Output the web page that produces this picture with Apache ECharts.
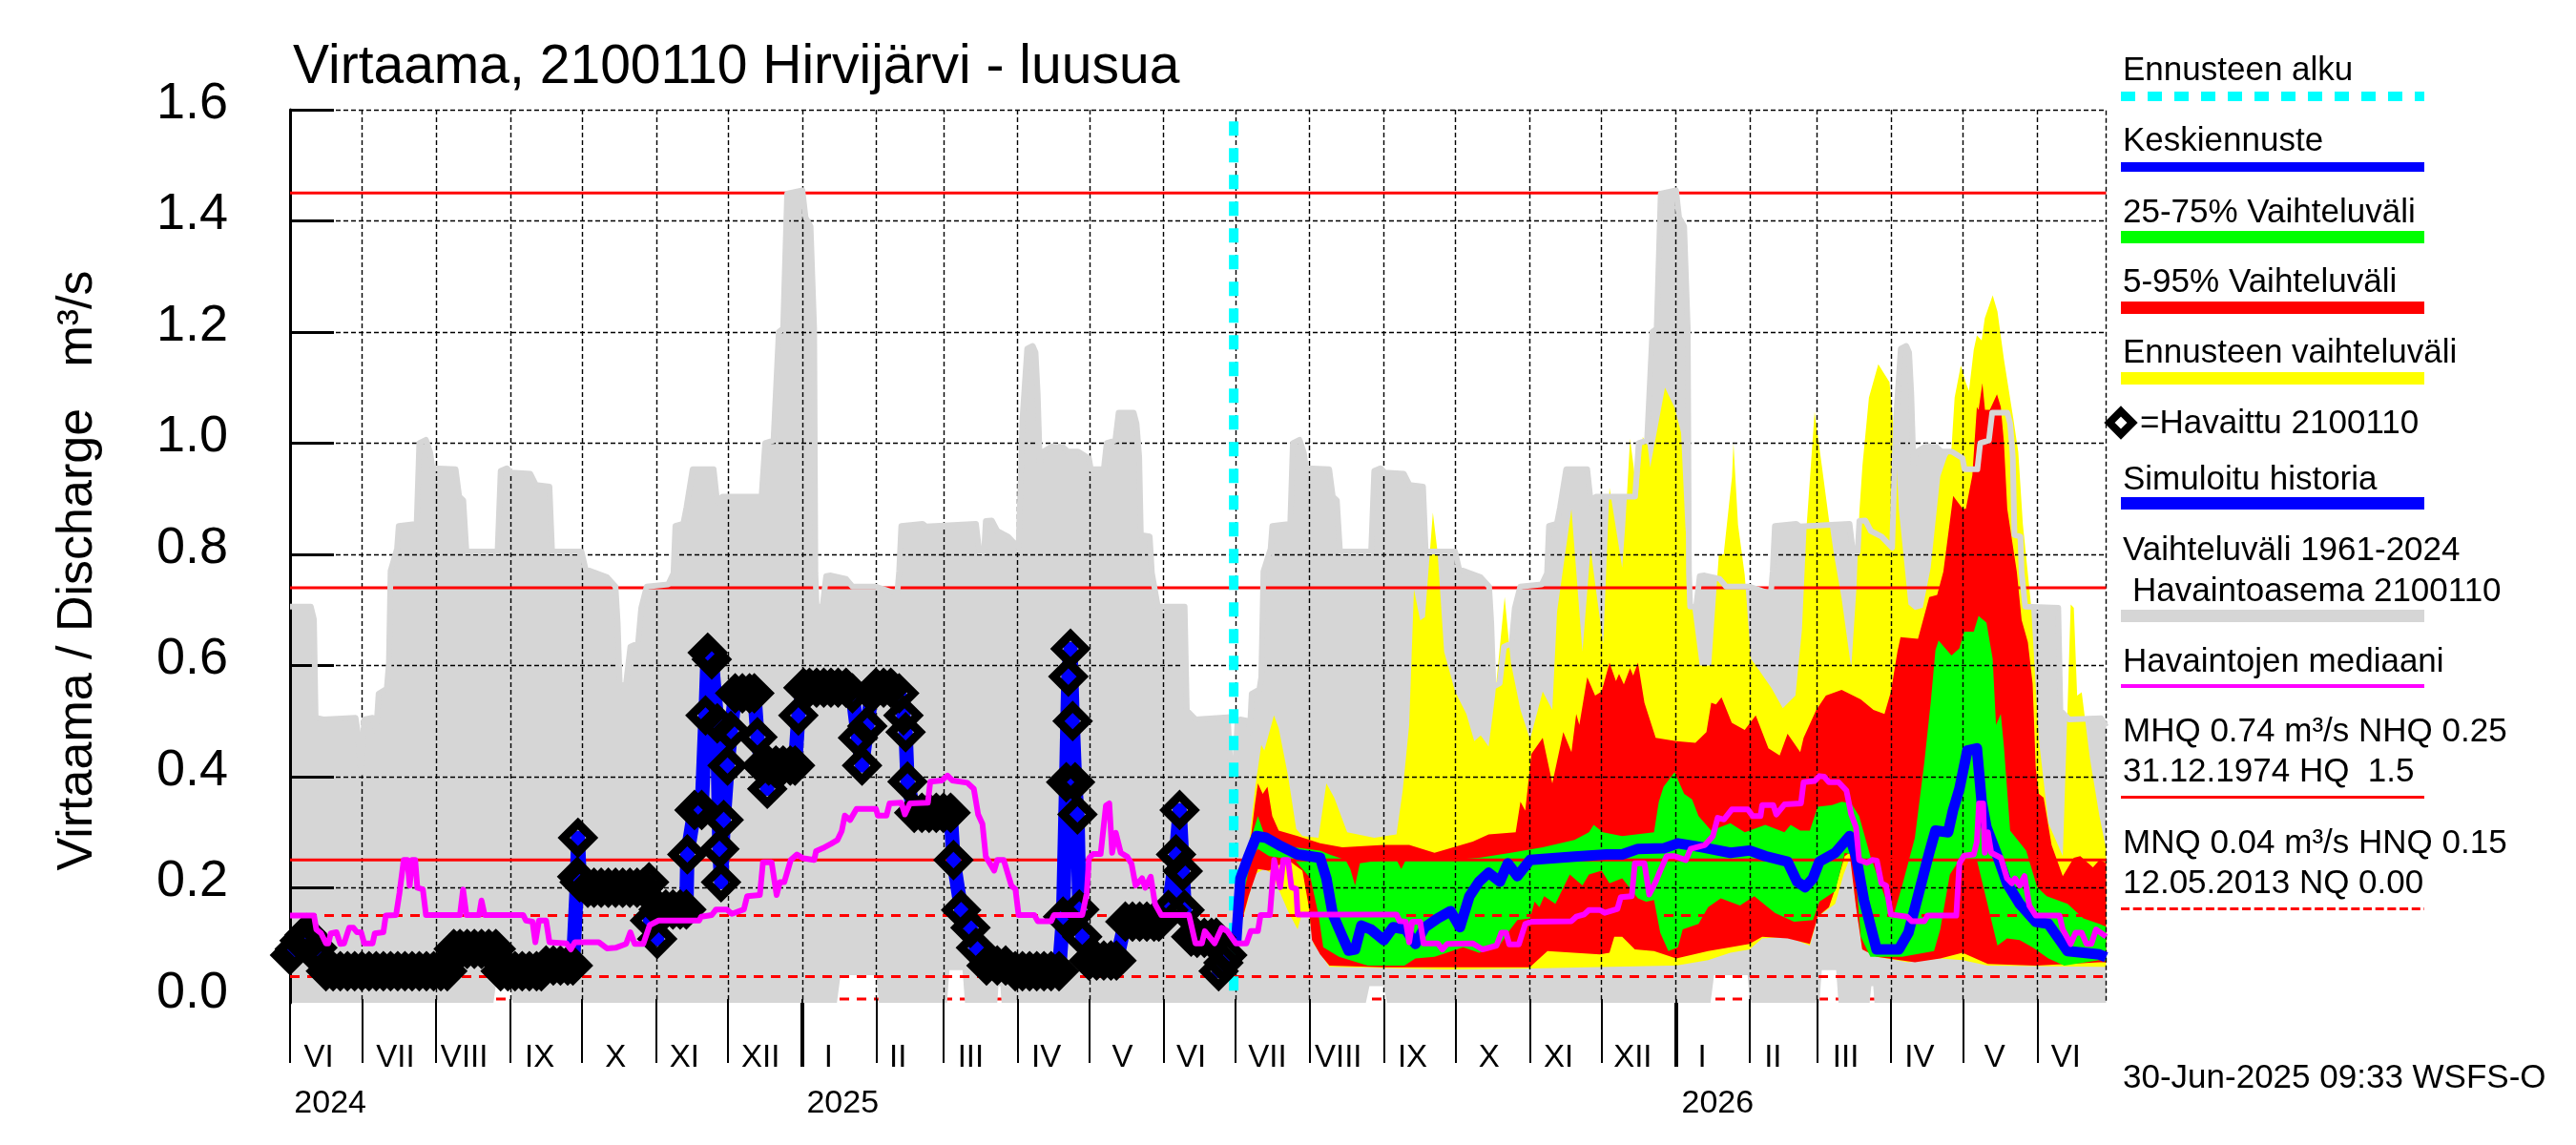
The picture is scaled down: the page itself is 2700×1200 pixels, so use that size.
<!DOCTYPE html>
<html><head><meta charset="utf-8"><style>html,body{margin:0;padding:0;background:#fff}#c{width:2700px;height:1200px}</style>
<script src="https://cdn.jsdelivr.net/npm/echarts@6/dist/echarts.min.js"></script></head><body><div id="c"></div>
<script>
// x values are days since 1 June 2024, y values are m3/s
const monthStarts=[0,30,61,92,122,153,183,214,245,273,304,334,365,395,426,457,487,518,548,579,610,638,669,699,730];
const yearStarts=[214,579];
const monthNames=['VI','VII','VIII','IX','X','XI','XII','I','II','III','IV','V','VI','VII','VIII','IX','X','XI','XII','I','II','III','IV','V','VI'];
const monthLabelDays=[12,44,72.8,104.3,136,164.8,196.6,225,254,284.4,316,347.8,376.5,408.4,438,469,501,530,561,590,619.6,650,680.8,712.3,742];
const yearNames=['2024','2025','2026'];
const yearLabelDays=[16.8,230.9,596.5];
const yTicks=[0.2,0.4,0.6,0.8,1.0,1.2,1.4,1.6];
const yLabels=[0,0.2,0.4,0.6,0.8,1.0,1.2,1.4,1.6];
const lastDay=758.8, forecastDay=394.3;
const HQ=1.45,MHQ=0.74,NHQ=0.25,HNQ=0.15,MNQ=0.04,NQ=0;

const greyTop=[[0,.706],[8.7,.706],[10,.683],[10.7,.506],[14,.503],[27.4,.506],[28.3,.48],[29.7,.407],[31,.503],[34.5,.506],[36,.483],[37,.549],[40.4,.558],[41.3,.604],[42,.77],[44.7,.81],[45.4,.851],[52.9,.855],[54,1.0],[56.8,1.006],[58.6,.983],[59.5,.955],[69.2,.953],[70.7,.904],[72.4,.897],[73.7,.805],[86.7,.805],[88,.95],[90.6,.955],[92.4,.947],[100.4,.945],[102.7,.925],[108.4,.922],[109.5,.805],[121.8,.805],[123.5,.773],[132.4,.759],[136,.742],[136.9,.677],[137.8,.562],[140.4,.568],[142.2,.634],[145.4,.64],[146.7,.703],[149,.742],[158,.746],[160.2,.766],[161,.851],[164.3,.855],[165.6,.884],[168.2,.953],[177,.953],[178.5,.894],[180.7,.904],[197,.904],[198.5,1.0],[202,1.005],[204.2,1.2],[206,1.206],[207.7,1.449],[214.1,1.455],[215.4,1.406],[217.5,1.39],[219,1.206],[219.5,.767],[220,.706],[222.5,.706],[224,.761],[226,.762],[232.3,.756],[235,.742],[244.8,.742],[253.7,.729],[254.5,.77],[255.4,.851],[264.3,.855],[265.8,.85],[286.6,.855],[288,.805],[290,.805],[290.7,.86],[293.2,.861],[295.5,.842],[300,.832],[304.4,.812],[306,1.042],[308,1.17],[310.3,1.175],[311.5,1.163],[312.4,1.088],[313.3,.963],[314.2,.983],[318.6,.995],[323,.993],[324.9,.985],[329.3,.985],[333.8,.973],[334.6,.953],[340,.953],[341.2,1.0],[344.8,1.005],[346.2,1.055],[352.5,1.055],[353.7,1.035],[354.8,.976],[355.5,.835],[359.2,.832],[360.1,.767],[362.6,.706],[373.8,.706],[374.7,.519],[378.3,.503],[391.8,.507],[393,.415],[394,.408],[395,.428],[395.8,.493],[397,.503],[400.5,.5],[401,.48],[401.8,.549],[405,.557],[405.8,.579],[406.7,.769],[409.7,.81],[410.4,.851],[417.9,.855],[419,1.0],[421.8,1.006],[423.6,.983],[424.5,.955],[434.2,.953],[435.7,.904],[437.4,.897],[438.7,.805],[451.7,.805],[453,.95],[455.6,.955],[457.4,.947],[465.4,.945],[467.7,.925],[473.4,.922],[474.5,.805],[486.8,.805],[488.5,.773],[497.4,.759],[501,.742],[501.9,.677],[502.8,.562],[505.4,.568],[507.2,.634],[510.4,.64],[511.7,.703],[514,.742],[523,.746],[525.2,.766],[526,.851],[529.3,.855],[530.6,.884],[533.2,.953],[542,.953],[543.5,.894],[545.7,.904],[562,.904],[563.5,1.0],[567,1.005],[569.2,1.2],[571,1.206],[572.7,1.449],[579.1,1.455],[580.4,1.406],[582.5,1.39],[584,1.206],[584.5,.767],[585,.706],[587.5,.706],[589,.761],[591,.762],[597.3,.756],[600,.742],[609.8,.742],[618.7,.729],[619.5,.77],[620.4,.851],[629.3,.855],[630.8,.85],[651.6,.855],[653,.805],[655,.805],[655.7,.86],[658.2,.861],[660.5,.842],[665,.832],[669.4,.812],[671,1.042],[673,1.17],[675.3,1.175],[676.5,1.163],[677.4,1.088],[678.3,.963],[679.2,.983],[683.6,.995],[688,.993],[689.9,.985],[694.3,.985],[698.8,.973],[699.6,.953],[705,.953],[706.2,1.0],[709.8,1.005],[711.2,1.055],[717.5,1.055],[718.7,1.035],[719.8,.976],[720.5,.835],[723,.832],[723.5,.767],[725,.706],[738.8,.704],[739.7,.519],[743.3,.503],[756.7,.505],[758.8,.49]];
const greyBottom=[[0,-.007],[85,-.007],[86,.025],[92,.025],[93,-.007],[228.5,-.007],[230,.043],[245,.043],[246,-.007],[274.5,-.007],[275.5,.052],[281,.052],[282,-.007],[295.5,-.007],[296,.023],[296.8,.023],[297.3,-.007],[449.5,-.007],[451,.023],[457,.023],[458.3,-.007],[593.5,-.007],[595,.043],[609,.043],[610,-.007],[639,-.007],[640,.052],[646,.052],[647,-.007],[660,-.007],[660.7,.023],[661.5,.023],[662,-.007],[758.8,-.007]];

const yellowTop=[[395.3,.102],[397.8,.244],[400.5,.27],[403.1,.375],[405.8,.457],[407.1,.447],[411.1,.51],[413.1,.487],[417,.401],[420.4,.306],[423,.293],[429.7,.29],[433,.388],[436.3,.362],[441.7,.3],[453,.29],[462.3,.296],[464.9,.375],[467.6,.493],[469.6,.737],[472.2,.681],[474.2,.687],[477.5,.875],[479.5,.802],[482.2,.625],[486.8,.553],[491.5,.513],[494.8,.464],[497.5,.474],[500.8,.454],[503.5,.546],[507.5,.723],[510.1,.605],[514.1,.52],[518.1,.467],[523.4,.553],[527.4,.52],[529.4,.697],[535.4,.881],[540,.625],[543.4,.809],[548.7,.638],[551.3,.92],[556.6,.776],[557.9,.853],[559.9,1.008],[561.9,.94],[563.2,.91],[565.2,1.011],[567.2,.996],[568.3,.956],[574.5,1.1],[578.5,1.064],[581.2,1.019],[583,.85],[586,.7],[589,.6],[593.8,.6],[597,.8],[599,.8],[602.5,.94],[603.1,1.0],[605,.853],[607.8,.763],[610.4,.612],[613.7,.592],[619,.559],[623.7,.523],[629,.546],[631.7,.664],[633.7,.853],[637,1.056],[640,.96],[643,.862],[645,.802],[648.3,.72],[652.3,.595],[654.5,.74],[655.7,.876],[657,.96],[659.7,1.082],[663.6,1.142],[668.3,1.11],[669.6,1.047],[670.9,.996],[672.2,.881],[676.2,.71],[678.9,.7],[682.2,.704],[685.5,.776],[689.5,.94],[692.2,.974],[694.2,.991],[695.5,1.082],[698.1,1.14],[700.1,1.11],[701.5,1.094],[703.5,1.168],[704.8,1.194],[706.8,1.185],[708.1,1.225],[711.4,1.266],[713.4,1.237],[716.1,1.151],[720.1,1.042],[722.1,.984],[724,.855],[727.4,.71],[730.7,.467],[734.7,.316],[740.7,.257],[742.7,.526],[744,.71],[745.3,.704],[746.7,.546],[748.6,.552],[752,.434],[756,.329],[758.8,.27]];
const yellowBottom=[[395.3,.102],[399,.158],[403,.224],[407,.234],[409.8,.227],[413.7,.191],[417,.158],[421,.125],[423,.158],[425.7,.152],[427.7,.099],[434.3,.058],[483.5,.053],[518,.055],[576.6,.06],[579,.06],[592.5,.07],[601.8,.083],[609.8,.089],[615.1,.109],[625.7,.112],[635,.096],[638.3,.148],[645.6,.171],[649.1,.224],[652.3,.26],[653.6,.19],[656.9,.089],[662.9,.076],[676.2,.066],[689.5,.073],[698.8,.07],[709.4,.06],[756,.058],[758.8,.058]];
const redTop=[[395.3,.102],[398,.2],[401.1,.277],[403.1,.349],[404.4,.388],[406.4,.369],[408.4,.382],[410.4,.329],[413.1,.303],[421,.293],[430.4,.28],[439.7,.273],[457,.277],[467.6,.277],[478.2,.263],[494.2,.283],[500.8,.296],[512.1,.3],[514.1,.355],[516.1,.339],[518.7,.441],[523.4,.47],[527.4,.388],[532,.48],[535.4,.444],[537.4,.513],[538.7,.493],[542,.579],[545.3,.546],[548,.553],[551.3,.605],[554,.572],[555.3,.585],[557.3,.566],[559.9,.595],[561.2,.582],[563.2,.605],[565.9,.533],[570.6,.47],[579.2,.464],[587.2,.461],[591.8,.48],[593.8,.533],[595.8,.53],[598.1,.543],[602.4,.497],[607.8,.484],[612.4,.51],[617.7,.451],[622.4,.438],[625.7,.477],[631,.444],[632.4,.47],[637.7,.52],[641.7,.546],[648.3,.556],[656.3,.539],[661.6,.52],[666.2,.513],[668.9,.553],[671.6,.625],[672.9,.651],[680.2,.648],[684.9,.723],[688.2,.727],[690.8,.769],[694.9,.905],[698.9,.882],[700.2,.882],[702.9,.942],[704.8,1.065],[705.5,1.06],[707.1,1.108],[708.2,1.06],[710.2,1.06],[713.2,1.088],[714.8,1.065],[716.1,1.002],[717.5,.882],[719.5,.825],[721.5,.768],[723.5,.682],[726.1,.642],[728.1,.567],[729.4,.415],[730.7,.369],[732.7,.362],[736,.277],[740.7,.221],[745.3,.254],[748,.257],[753.3,.237],[756,.25],[758.8,.245]];
const redBottom=[[395.3,.102],[400.5,.185],[404.4,.234],[409,.231],[417,.25],[423,.231],[425.7,.165],[427,.106],[430.4,.08],[434.3,.06],[457,.057],[518,.057],[522,.073],[525.4,.086],[547.3,.08],[551.3,.083],[553.3,.112],[556.6,.112],[561.9,.089],[569.9,.086],[579.2,.073],[592.5,.086],[601.8,.093],[609.8,.099],[615.1,.112],[625.7,.109],[635,.099],[638.3,.148],[643,.165],[645.6,.198],[649.6,.257],[651.6,.263],[654.3,.165],[656.9,.089],[662.9,.076],[678.9,.066],[689.5,.073],[698.8,.083],[709.4,.063],[729.4,.06],[756,.066],[758.8,.066]];
const greenTop=[[395.3,.102],[398,.2],[401.1,.283],[404.4,.329],[407.1,.296],[410.4,.283],[419.7,.273],[430.4,.267],[434.3,.26],[441,.25],[443,.234],[445,.204],[447,.244],[451.6,.247],[462.3,.25],[464.3,.234],[466.2,.25],[490.2,.252],[496.8,.254],[510.1,.263],[523.4,.273],[536.7,.286],[542.7,.3],[544.7,.313],[548.6,.3],[556.6,.293],[569.9,.3],[571.9,.355],[573.9,.382],[578.5,.408],[582.5,.369],[585.8,.359],[588.5,.329],[593.8,.303],[601.8,.316],[607.8,.3],[616.4,.313],[624.4,.3],[627,.313],[631,.303],[635,.303],[638.3,.346],[644.3,.349],[648.3,.355],[652.3,.352],[655.6,.329],[660.3,.257],[669.6,.145],[673.6,.204],[678.9,.29],[682.9,.428],[685.5,.533],[687.5,.628],[688.8,.645],[694.2,.618],[697.5,.631],[699.5,.661],[703.5,.661],[705.5,.689],[708.8,.677],[711.4,.612],[712.8,.493],[714.8,.513],[716.1,.454],[718.7,.303],[725.4,.267],[730,.201],[734,.185],[742.7,.171],[749.3,.145],[756,.135],[758.8,.13]];
const greenBottom=[[395.3,.102],[398,.18],[401.8,.257],[404.4,.27],[409.1,.257],[419.7,.25],[426.4,.217],[429.7,.152],[431.7,.093],[438.3,.076],[450.3,.06],[465.6,.06],[470.2,.073],[478.2,.076],[490.2,.093],[496.8,.083],[504.8,.093],[508.8,.119],[512.8,.142],[518.1,.145],[520,.175],[522,.165],[524,.185],[528.7,.171],[534.7,.224],[540,.204],[542.7,.224],[548,.231],[551.3,.208],[556.6,.217],[563.2,.181],[566.6,.175],[569.9,.178],[572.5,.119],[575.9,.086],[579.9,.093],[581.9,.125],[588.5,.135],[592.5,.165],[597.8,.181],[605.8,.168],[611.8,.185],[620.4,.155],[628.4,.139],[636.3,.142],[639,.175],[645.6,.194],[649.6,.263],[652.3,.26],[654.3,.217],[656.3,.112],[660.3,.076],[673.6,.076],[686.9,.086],[689.5,.125],[693.5,.224],[697.5,.25],[704.8,.25],[713.4,.096],[717.4,.109],[722.7,.106],[728,.093],[734.7,.073],[741.3,.06],[756,.07],[758.8,.068]];
const forecastMean=[[395.3,.102],[397.1,.217],[400.5,.257],[403.8,.293],[407.8,.29],[413.1,.277],[421,.26],[430.4,.254],[433,.217],[435.7,.152],[439.7,.112],[442.3,.087],[445,.089],[447.6,.132],[451.6,.125],[457,.106],[460.9,.129],[466.2,.125],[470.2,.099],[474.2,.129],[479.5,.145],[484.9,.158],[488.8,.129],[492.8,.185],[496.8,.211],[500.8,.227],[505.5,.211],[508.8,.244],[512.8,.221],[518.1,.25],[536.7,.256],[550,.26],[556.6,.26],[563.2,.27],[573.9,.271],[579.9,.28],[589.8,.273],[601.8,.263],[609.8,.267],[616.4,.257],[625.7,.247],[629.7,.211],[633,.201],[636.3,.217],[639,.247],[645.6,.263],[651.6,.293],[654.3,.257],[657.6,.178],[662.9,.089],[672.2,.089],[676.2,.119],[680.2,.185],[684.9,.263],[687.5,.303],[692.8,.3],[694.8,.339],[697.5,.378],[700.8,.447],[704.8,.451],[706.8,.355],[708.8,.309],[713.4,.257],[717.4,.208],[722.7,.171],[729.4,.139],[734.7,.135],[742.7,.086],[756,.08],[758.8,.075]];
const median=[[0,.15],[10,.15],[11,.125],[13,.118],[15,.1],[16,.1],[17,.118],[19.4,.12],[21,.099],[22.6,.1],[24.7,.128],[26.5,.128],[28,.12],[29.7,.12],[31,.1],[34.5,.1],[35.4,.118],[39,.12],[40,.15],[44.3,.151],[45.7,.19],[47.5,.25],[49,.25],[50,.204],[51,.25],[52.3,.25],[53.2,.2],[55.5,.197],[56.8,.151],[71,.151],[72.3,.197],[73.7,.151],[79,.151],[80,.177],[81.3,.151],[97.4,.151],[98.6,.141],[101.3,.139],[102.5,.102],[104,.141],[107,.141],[108.4,.102],[115.5,.1],[117.3,.089],[119,.102],[129,.102],[132.4,.091],[136,.092],[140.4,.099],[142.2,.12],[144,.099],[147.6,.099],[150.3,.133],[154,.141],[170.9,.141],[171.8,.148],[176.2,.151],[178,.161],[182.5,.161],[184.6,.153],[189.6,.161],[191,.185],[196.3,.187],[197.6,.246],[201.2,.246],[203.3,.187],[204.7,.21],[206.5,.21],[209.2,.25],[211.8,.26],[214.5,.253],[219,.25],[219.8,.266],[223.4,.273],[226,.279],[228.7,.286],[230.5,.302],[231.8,.33],[234,.322],[236.7,.342],[244.8,.342],[245.6,.33],[249.2,.33],[250.5,.352],[255.4,.353],[256.9,.332],[259,.352],[266.5,.353],[267.5,.391],[272.3,.393],[274.7,.402],[276.8,.393],[283,.389],[285.7,.378],[287.5,.332],[289.3,.315],[290.7,.256],[294.2,.231],[295.5,.25],[298.2,.25],[301.4,.204],[303.1,.197],[304.4,.151],[311,.151],[312.4,.14],[318,.14],[319.2,.151],[331,.151],[332.9,.19],[333.8,.253],[335.5,.261],[338.7,.261],[340.9,.348],[342.3,.352],[343.5,.263],[345,.299],[347.1,.263],[349.8,.256],[351.6,.243],[353.3,.204],[356,.217],[357.3,.2],[359.6,.22],[361.4,.171],[364,.151],[375.6,.151],[378.3,.1],[381,.1],[382.2,.122],[386.3,.1],[389.3,.128],[391.6,.122],[395.2,.1],[399.6,.1],[401.4,.122],[404.4,.122],[405.5,.151],[409.4,.151],[411.2,.25],[413.7,.201],[415,.25],[417,.25],[418.4,.201],[420.4,.198],[421,.152],[462.3,.152],[463.6,.14],[466.2,.139],[467.6,.102],[468.9,.139],[472.2,.139],[473.6,.1],[479.5,.1],[481.5,.089],[483.5,.099],[494.2,.1],[498.2,.089],[504.1,.096],[506.1,.119],[508.1,.119],[509.4,.098],[513.4,.098],[516.1,.135],[518.7,.139],[535.4,.14],[537.4,.148],[540.7,.152],[542.7,.16],[547.3,.16],[549.3,.155],[554.6,.162],[556,.183],[560.6,.185],[561.9,.244],[565.9,.244],[567.9,.188],[570.6,.211],[572.5,.231],[575.2,.257],[578.5,.257],[583.2,.25],[585.2,.27],[591.2,.277],[594.5,.293],[596.5,.326],[599.1,.323],[602.4,.341],[609.1,.341],[611.1,.329],[614.4,.329],[615.1,.349],[619.7,.349],[621,.332],[624.4,.35],[631.3,.352],[632.4,.39],[637,.392],[639,.401],[641,.4],[643,.39],[647,.39],[650.3,.375],[652.3,.332],[654.3,.309],[655.6,.25],[658.9,.245],[661,.25],[663,.249],[664.9,.208],[666.9,.204],[668.9,.152],[675.6,.148],[677.5,.14],[682.9,.14],[684.2,.15],[696.2,.15],[697.5,.244],[699.5,.258],[703.5,.26],[704.8,.283],[705.7,.352],[707.4,.352],[708.1,.263],[709.4,.3],[710.8,.263],[714.8,.254],[717.4,.217],[719.4,.208],[720.7,.217],[722.7,.204],[724.7,.221],[726.7,.168],[729.4,.15],[739.3,.15],[740.7,.125],[744,.099],[746,.119],[748.6,.119],[750.6,.099],[752.6,.099],[754.6,.125],[758.8,.112]];
const observed=[[0,.079],[2,.09],[4,.105],[6,.115],[7,.118],[9,.108],[11.4,.092],[13,.07],[15,.05],[18,.05],[21,.05],[24,.05],[27,.05],[30,.05],[33,.05],[36,.05],[39,.05],[42,.05],[45,.05],[48,.05],[51,.05],[54,.05],[57,.05],[60,.05],[63,.05],[65.7,.05],[67,.07],[68.4,.09],[71,.09],[74,.09],[77,.09],[80,.09],[83,.09],[86,.09],[87,.07],[88,.05],[91,.05],[94,.05],[97,.05],[100,.05],[103,.05],[105,.05],[107,.06],[110,.06],[113,.06],[116,.06],[118.2,.06],[120,.22],[120.3,.29],[121,.21],[124.4,.2],[127,.2],[130,.2],[133,.2],[136,.2],[139,.2],[142,.2],[145,.2],[147.6,.2],[150,.21],[150.4,.141],[153.4,.108],[154,.161],[157,.161],[160,.161],[163,.161],[165.6,.161],[166,.26],[169,.34],[172,.34],[173.6,.51],[174.5,.623],[176.2,.611],[178.5,.496],[179.4,.27],[180.1,.21],[181.2,.322],[182.8,.42],[184.2,.482],[186,.55],[189,.55],[192,.55],[194,.55],[195.3,.471],[197,.42],[199.4,.378],[200,.42],[203,.42],[206,.42],[209,.42],[211,.42],[212.4,.51],[214.5,.56],[217,.56],[220,.56],[223,.56],[226,.56],[229,.56],[232.3,.56],[235,.55],[237.3,.47],[239,.42],[241.2,.491],[243,.55],[244.8,.56],[248,.56],[251,.56],[254.5,.55],[256.3,.51],[257.2,.48],[258,.391],[260.8,.335],[264,.335],[267,.335],[270,.335],[273,.335],[276,.335],[277.2,.25],[280.4,.16],[284.3,.128],[286.6,.092],[291,.06],[295.5,.06],[299,.06],[303,.05],[306,.05],[309,.05],[312,.05],[315,.05],[318,.05],[321.3,.05],[323,.148],[324.3,.39],[325.2,.58],[326.1,.63],[327,.5],[328,.39],[329,.332],[329.8,.161],[331,.112],[333.8,.069],[337,.069],[340,.069],[343,.069],[345.3,.069],[349,.139],[352,.139],[355,.139],[358,.139],[361,.139],[363,.139],[367,.16],[370.2,.26],[371.7,.34],[373,.23],[373.8,.16],[376.5,.112],[379,.11],[382,.11],[385,.11],[387,.11],[388,.05],[390,.065],[391.6,.079]];

// layout and style values below, kept apart from the data
const F='"Liberation Sans",Arimo,Helvetica,Arial,sans-serif';
function area(top,bottom,color,z){
  const pts=top.concat(bottom.slice().reverse());
  return {type:'custom',coordinateSystem:'cartesian2d',z,silent:true,clip:true,encode:{x:0,y:1},data:pts,
    renderItem:(p,api)=>p.dataIndex===0?{type:'polygon',shape:{points:pts.map(d=>api.coord(d))},style:{fill:color}}:null};
}
function line(data,color,width,z,dash,clip){
  return {type:'line',data,z,silent:true,showSymbol:false,symbol:'none',clip:clip!==false,
    lineStyle:{color,width,type:dash||'solid',join:'round',cap:'butt'}};
}
function level(v,dash,z){return line([[0,v],[lastDay,v]],'#ff0000',3,z,dash?[10,8]:'solid');}
const series=[
  level(NQ,true,1),
  area(greyTop,greyBottom,'#d6d6d6',2),
  area(yellowTop,yellowBottom,'#ffff00',3),
  area(redTop,redBottom,'#ff0000',4),
  area(greenTop,greenBottom,'#00ff00',5),
  level(HQ,false,7),level(MHQ,false,7),level(NHQ,false,7),level(HNQ,true,7),level(MNQ,true,7),
  line([[lastDay,-.003],[lastDay,1.6]],'#000',1.4,6,[5,3]),
  line(greyTop,'#d6d6d6',6,8),
  line([[forecastDay,1.579],[forecastDay,.005]],'#00ffff',10,9,[15,13]),
  line(observed,'#0000ff',15,10,null,false),
  line(forecastMean,'#0000ff',11,10,null,false),
  {type:'scatter',data:observed,z:11,silent:true,clip:false,symbol:'diamond',symbolSize:30,
    itemStyle:{color:'rgba(0,0,0,0)',opacity:1,borderColor:'#000',borderWidth:9,borderJoin:'miter'}},
  line(median,'#ff00ff',6,12,null,false)
];

const legendRows=[
 {t:'Ennusteen alku',y:83,bar:[96,106],c:'#00ffff',dash:[15,13]},
 {t:'Keskiennuste',y:157,bar:[170,180],c:'#0000ff'},
 {t:'25-75% Vaihteluväli',y:232,bar:[242,255],c:'#00ff00'},
 {t:'5-95% Vaihteluväli',y:305,bar:[316,329],c:'#ff0000'},
 {t:'Ennusteen vaihteluväli',y:379,bar:[390,403],c:'#ffff00'},
 {t:'=Havaittu 2100110',y:453,x:2243},
 {t:'Simuloitu historia',y:512.5,bar:[521,534],c:'#0000ff'},
 {t:'Vaihteluväli 1961-2024',y:586},
 {t:'Havaintoasema 2100110',y:629,x:2235,bar:[639,652],c:'#d6d6d6'},
 {t:'Havaintojen mediaani',y:703,bar:[717,721],c:'#ff00ff'},
 {t:'MHQ 0.74 m³/s NHQ 0.25',y:776},
 {t:'31.12.1974 HQ  1.5',y:818,bar:[834,837],c:'#ff0000'},
 {t:'MNQ 0.04 m³/s HNQ 0.15',y:893},
 {t:'12.05.2013 NQ 0.00',y:935,bar:[951,954],c:'#ff0000',dash:[9,3.7]},
 {t:'30-Jun-2025 09:33 WSFS-O',y:1139}
];
const BL=0.26; // baseline to middle, in em
const graphics=[];
legendRows.forEach(r=>{
  graphics.push({type:'text',z:100,style:{text:r.t,x:r.x||2225,y:r.y-35*BL,font:'35px '+F,fill:'#000',textVerticalAlign:'middle',verticalAlign:'middle'}});
  if(r.bar){
    const my=(r.bar[0]+r.bar[1])/2,w=r.bar[1]-r.bar[0];
    graphics.push({type:'line',z:100,shape:{x1:2223,y1:my,x2:2541,y2:my},style:{stroke:r.c,lineWidth:w,lineDash:r.dash||null}});
  }
});
graphics.push({type:'polygon',z:100,shape:{points:[[2223,431],[2235,443],[2223,455],[2211,443]]},style:{fill:'none',stroke:'#000',lineWidth:8,lineJoin:'miter'}});
graphics.push({type:'text',z:100,rotation:Math.PI/2,x:82,y:598,style:{text:'Virtaama / Discharge   m³/s',x:0,y:0,font:'52px '+F,fill:'#000',align:'center',verticalAlign:'middle'}});

const chart=echarts.init(document.getElementById('c'),null,{renderer:'canvas',width:2700,height:1200});
const labelOf=(days,names)=>v=>{const i=days.indexOf(v);return i<0?'':names[i];};
chart.setOption({
  animation:false,backgroundColor:'#fff',
  title:{text:'Virtaama, 2100110 Hirvijärvi - luusua',left:307,top:43,padding:0,textStyle:{fontFamily:F,fontSize:57,fontWeight:'normal',color:'#000'}},
  grid:{left:304,right:2700-2207.5,top:115,bottom:1200-1051,containLabel:false},
  xAxis:[
    {type:'value',min:0,max:lastDay,position:'bottom',z:6,axisLine:{show:false},
     axisTick:{show:true,customValues:monthStarts,length:67,lineStyle:{color:'#000',width:2}},
     splitLine:{show:true,lineStyle:{color:'#000',width:1.4,type:[5,3]}},
     axisLabel:{show:true,customValues:monthLabelDays,formatter:labelOf(monthLabelDays,monthNames),margin:41,fontFamily:F,fontSize:33,color:'#000',hideOverlap:false}},
    {type:'value',min:0,max:lastDay,position:'bottom',z:6,axisLine:{show:false},splitLine:{show:false},
     axisTick:{show:true,customValues:yearStarts,length:67,lineStyle:{color:'#000',width:4}},
     axisLabel:{show:true,customValues:yearLabelDays,formatter:labelOf(yearLabelDays,yearNames),margin:89,fontFamily:F,fontSize:34,color:'#000',hideOverlap:false}}
  ],
  yAxis:{type:'value',min:-0.007,max:1.6,z:6,
    axisLine:{show:true,onZero:false,lineStyle:{color:'#000',width:3}},
    axisTick:{show:true,inside:true,customValues:yTicks,length:46,lineStyle:{color:'#000',width:3}},
    splitLine:{show:true,lineStyle:{color:'#000',width:1.4,type:[5,3]}},
    axisLabel:{show:true,customValues:yLabels,formatter:v=>v.toFixed(1),margin:65,fontFamily:F,fontSize:54,color:'#000',verticalAlign:'bottom',lineHeight:12,hideOverlap:false}},
  series,
  graphic:{elements:graphics}
});
</script></body></html>
